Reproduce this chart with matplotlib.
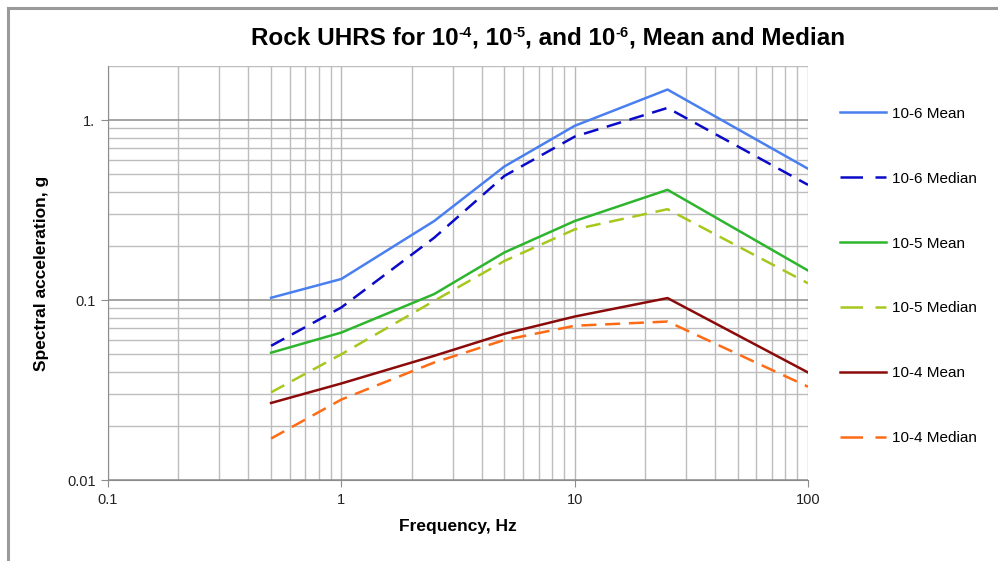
import numpy as np
import matplotlib.pyplot as plt
from matplotlib.lines import Line2D
from matplotlib.ticker import FixedLocator, LogLocator, NullFormatter

# frekvencije (Hz)
freq = [0.5, 1, 2.5, 5, 10, 25, 100]

# spektralna ubrzanja (g)
mean_1e6 = [0.103, 0.131, 0.275, 0.553, 0.93, 1.48, 0.537]
median_1e6 = [0.0557, 0.091, 0.222, 0.49, 0.81, 1.17, 0.437]
mean_1e5 = [0.051, 0.066, 0.108, 0.184, 0.275, 0.41, 0.146]
median_1e5 = [0.0307, 0.050, 0.099, 0.165, 0.247, 0.32, 0.124]
mean_1e4 = [0.0268, 0.0344, 0.049, 0.065, 0.081, 0.1026, 0.0396]
median_1e4 = [0.017, 0.028, 0.045, 0.060, 0.072, 0.076, 0.033]

labels = ["10-6 Mean", "10-6 Median", "10-5 Mean", "10-5 Median", "10-4 Mean", "10-4 Median"]
x_ticks = [0.1, 1, 10, 100]
x_ticklabels = ["0.1", "1", "10", "100"]
y_ticks = [0.01, 0.1, 1]
y_ticklabels = ["0.01", "0.1", "1."]

# naslov: (tekst, eksponent?)
title_parts = [("Rock UHRS for 10", False), ("-4", True), (", 10", False), ("-5", True),
               (", and 10", False), ("-6", True), (", Mean and Median", False)]

series = [mean_1e6, median_1e6, mean_1e5, median_1e5, mean_1e4, median_1e4]
colors = ["#4a7ff0", "#0a0ac8", "#2db52d", "#a6c81e", "#8b0b0b", "#ff6a14"]
dashed = [False, True, False, True, False, True]

plt.rcParams['font.family'] = ['Liberation Sans', 'DejaVu Sans']

fig = plt.figure(figsize=(9.98, 5.61), dpi=100)
ax = fig.add_axes([108 / 998, 1 - 480 / 561, 700 / 998, 414 / 561])

for vals, lab, c, d in zip(series, labels, colors, dashed):
    if d:
        ax.plot(freq, vals, color=c, lw=1.8, label=lab, dashes=(6, 3.5))
    else:
        ax.plot(freq, vals, color=c, lw=1.8, label=lab)

ax.set_xscale("log")
ax.set_yscale("log")
ax.set_xlim(0.1, 100)
ax.set_ylim(0.01, 2)

ax.xaxis.set_major_locator(FixedLocator(x_ticks))
ax.set_xticklabels(x_ticklabels)
ax.yaxis.set_major_locator(FixedLocator(y_ticks))
ax.set_yticklabels(y_ticklabels)
ax.xaxis.set_minor_locator(LogLocator(base=10, subs=np.arange(2, 10)))
ax.yaxis.set_minor_locator(LogLocator(base=10, subs=np.arange(2, 10)))
ax.xaxis.set_minor_formatter(NullFormatter())
ax.yaxis.set_minor_formatter(NullFormatter())

ax.grid(True, which="major", axis="y", color="#8c8c8c", lw=1.1)
ax.grid(True, which="major", axis="x", color="#b8b8b8", lw=1.0)
ax.grid(True, which="minor", color="#bdbdbd", lw=1.0)
ax.set_axisbelow(True)

ax.tick_params(which="major", length=5, color="#8c8c8c", labelsize=10.5, pad=4, labelcolor="#222222")
ax.tick_params(which="minor", length=0)
for s in ["top", "right"]:
    ax.spines[s].set_visible(False)
ax.spines["left"].set_color("#8c8c8c")
ax.spines["bottom"].set_color("#8c8c8c")

ax.set_xlabel("Frequency, Hz", fontsize=12.5, fontweight="bold", labelpad=9)
ax.set_ylabel("Spectral acceleration, g", fontsize=12.5, fontweight="bold", labelpad=13)

# naslov sa eksponentima, deo po deo
renderer = fig.canvas.get_renderer()
pieces = []
for txt, sup in title_parts:
    t = fig.text(0, 0, txt, fontsize=10.5 if sup else 17.5, fontweight="bold",
                 va="baseline", ha="left")
    pieces.append((t, sup))
total = sum(t.get_window_extent(renderer).width for t, _ in pieces)
x_px = 548 - total / 2
base_y = 561 - 45
for t, sup in pieces:
    w = t.get_window_extent(renderer).width
    t.set_position((x_px / 998, (base_y + (8 if sup else 0)) / 561))
    x_px += w

leg = ax.legend(loc="upper left", bbox_to_anchor=(826 / 998, 1 - 93 / 561), bbox_transform=fig.transFigure,
                frameon=False, fontsize=11, handlelength=3.0, labelspacing=3.33, handletextpad=0.45)
for h in leg.get_lines():
    if h.get_linestyle() != "-":
        h.set_dashes((9, 5))

# okvir grafikona
fig.add_artist(Line2D([8 / 998, 1], [1 - 8 / 561, 1 - 8 / 561], color="#9a9a9a", lw=2.2))
fig.add_artist(Line2D([8 / 998, 8 / 998], [0, 1 - 8 / 561], color="#9a9a9a", lw=2.2))

fig.savefig("out.png", dpi=100)
